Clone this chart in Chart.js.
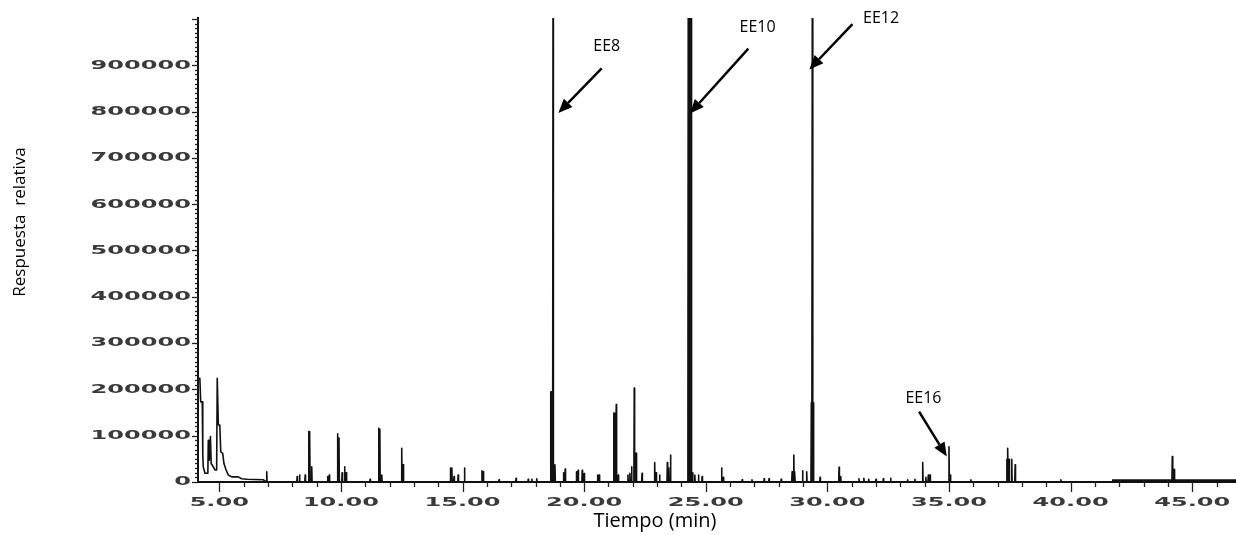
<!DOCTYPE html>
<html>
<head>
<meta charset="utf-8">
<script src="https://cdn.jsdelivr.net/npm/chart.js@4.4.1/dist/chart.umd.min.js"></script>
<style>
  html, body { margin: 0; padding: 0; background: #fff; }
  #wrap { width: 1236px; height: 535px; }
</style>
</head>
<body>
<div id="wrap"><canvas id="chart" width="1236" height="535"></canvas></div>
<script>
// solvent front
const frontTimes = [4.124, 4.13, 4.20, 4.235, 4.30, 4.32, 4.34, 4.41, 4.50, 4.53, 4.548, 4.565, 4.59, 4.635, 4.665, 4.75, 4.82, 4.89, 4.915, 4.935, 4.96, 5.02, 5.06, 5.14, 5.19, 5.28, 5.37, 5.51, 5.78, 5.92, 6.13, 6.80]
const frontValues = [0, 224000, 224000, 173000, 173000, 60000, 33000, 19000, 19000, 25000, 90000, 47000, 47000, 98000, 40000, 33000, 26000, 26000, 224000, 224000, 123000, 123000, 65000, 62000, 40000, 26000, 15000, 11000, 11000, 7000, 6000, 5000]

// narrow peaks (retention time in min, abundance)
const peakTimes = [6.95, 8.20, 8.30, 8.53, 8.68, 8.72, 8.80, 9.45, 9.52, 9.86, 9.92, 10.05, 10.15, 10.22,
  11.20, 11.55, 11.60, 11.68, 12.50, 12.56, 14.50, 14.56, 14.65, 14.82, 15.08, 15.80, 15.85, 16.50,
  17.20, 17.70, 17.85, 18.05, 18.62, 18.66, 18.72, 18.80, 19.15, 19.22, 19.68, 19.75, 19.92, 20.00,
  20.55, 20.62, 21.22, 21.26, 21.32, 21.40, 21.80, 21.88, 21.95, 22.06, 22.11, 22.14, 22.38, 22.90,
  22.96, 23.10, 23.42, 23.48, 23.55, 24.28, 24.32, 24.36, 24.40, 24.46, 24.55, 24.70, 24.85, 25.65,
  25.72, 26.50, 26.90, 27.40, 27.60, 28.10, 28.55, 28.62, 28.66, 28.98, 29.15, 29.34, 29.38, 29.42,
  29.70, 30.48, 30.55, 31.30, 31.50, 31.70, 32.00, 32.30, 32.60, 33.30, 33.60, 33.92, 34.05, 34.15,
  34.22, 35.00, 35.06, 35.90, 37.38, 37.42, 37.47, 37.58, 37.72, 39.60, 44.18, 44.22, 44.26]
const peakHeights = [22000, 12000, 15000, 15000, 109000, 109000, 33000, 12000, 15000, 104000, 95000, 20000, 33000, 20000,
  6000, 116000, 114000, 15000, 73000, 37000, 30000, 30000, 12000, 15000, 30000, 24000, 22000, 5000,
  8000, 6000, 6000, 7000, 195000, 195000, 1050000, 37000, 20000, 28000, 22000, 25000, 25000, 18000,
  15000, 15000, 149000, 149000, 167000, 15000, 15000, 19000, 33000, 203000, 62000, 62000, 19000, 42000,
  20000, 15000, 42000, 30000, 58000, 1050000, 1050000, 1050000, 1050000, 20000, 15000, 15000, 12000, 30000,
  10000, 5000, 5000, 7000, 7000, 6000, 22000, 58000, 22000, 24000, 22000, 171000, 1050000, 171000,
  10000, 32000, 12000, 7000, 8000, 6000, 6000, 7000, 8000, 5000, 6000, 42000, 10000, 15000,
  15000, 76000, 15000, 5000, 49000, 73000, 49000, 49000, 37000, 5000, 55000, 27000, 27000]

// raised baseline at the end of the run
const tailTimes = [41.7, 46.8]
const tailValues = [4000, 4000]

const xTickValues = [5, 10, 15, 20, 25, 30, 35, 40, 45]
const xTickLabels = ['5.00', '10.00', '15.00', '20.00', '25.00', '30.00', '35.00', '40.00', '45.00']
const yTickValues = [0, 100000, 200000, 300000, 400000, 500000, 600000, 700000, 800000, 900000]
const yTickLabels = ['0', '100000', '200000', '300000', '400000', '500000', '600000', '700000', '800000', '900000']

// peak labels and arrows, in data units
const peakNames = ['EE8', 'EE10', 'EE12', 'EE16']
const labelTimes = [20.93, 27.13, 32.21, 33.95]
const labelValues = [940000, 981000, 1001000, 180000]
const arrowFromTimes = [20.72, 26.75, 31.03, 33.77]
const arrowFromValues = [893000, 936000, 989000, 152000]
const arrowToTimes = [18.94, 24.35, 29.26, 34.91]
const arrowToValues = [797000, 796000, 891000, 55000]

const trace = []
frontTimes.forEach((t, i) => trace.push({ x: t, y: frontValues[i] }))
peakTimes.forEach((t, i) => {
  trace.push({ x: t - 0.015, y: 0 }, { x: t, y: peakHeights[i] }, { x: t + 0.015, y: 0 })
})
trace.push({ x: 46.8, y: 0 })
const tail = tailTimes.map((t, i) => ({ x: t, y: tailValues[i] }))

function arrow (ctx, x1, y1, x2, y2) {
  const a = Math.atan2(y2 - y1, x2 - x1)
  const head = 14
  const bx = x2 - Math.cos(a) * head
  const by = y2 - Math.sin(a) * head
  ctx.beginPath()
  ctx.moveTo(x1, y1)
  ctx.lineTo(bx, by)
  ctx.stroke()
  ctx.beginPath()
  ctx.moveTo(x2, y2)
  ctx.lineTo(bx + Math.sin(a) * 6, by - Math.cos(a) * 6)
  ctx.lineTo(bx - Math.sin(a) * 6, by + Math.cos(a) * 6)
  ctx.closePath()
  ctx.fill()
}

const decor = {
  id: 'decor',
  afterDraw (chart) {
    const ctx = chart.ctx
    const xs = chart.scales.x
    const ys = chart.scales.y
    const area = chart.chartArea
    ctx.save()
    ctx.strokeStyle = '#222'
    ctx.lineWidth = 1.3
    for (let v = 0; v <= 1000000; v += 10000) {
      const py = Math.round(ys.getPixelForValue(v)) + 0.5
      const len = v % 100000 === 0 ? 6 : 3
      ctx.beginPath()
      ctx.moveTo(area.left, py)
      ctx.lineTo(area.left - len, py)
      ctx.stroke()
    }
    for (let t = 5; t <= 46; t++) {
      const px = Math.round(xs.getPixelForValue(t)) + 0.5
      const len = t % 5 === 0 ? 10 : 5
      ctx.beginPath()
      ctx.moveTo(px, area.bottom)
      ctx.lineTo(px, area.bottom + len)
      ctx.stroke()
    }

    // stretched tick labels
    ctx.fillStyle = '#3a3a3a'
    ctx.font = 'bold 13px "DejaVu Sans"'
    ctx.textBaseline = 'middle'
    const stretch = 1.85
    yTickValues.forEach((v, i) => {
      ctx.save()
      ctx.translate(area.left - 7, ys.getPixelForValue(v))
      ctx.scale(stretch, 1)
      ctx.textAlign = 'right'
      ctx.fillText(yTickLabels[i], 0, 0)
      ctx.restore()
    })
    xTickValues.forEach((t, i) => {
      ctx.save()
      ctx.translate(xs.getPixelForValue(t), area.bottom + 21)
      ctx.scale(stretch, 1)
      ctx.textAlign = 'center'
      ctx.fillText(xTickLabels[i], 0, 0)
      ctx.restore()
    })

    // axis titles
    ctx.fillStyle = '#000'
    ctx.font = '20px "Open Sans"'
    ctx.textAlign = 'center'
    ctx.fillText('Tiempo (min)', 655, 521)
    ctx.save()
    ctx.translate(20, 222)
    ctx.rotate(-Math.PI / 2)
    ctx.font = '17px "Open Sans"'
    ctx.fillText('Respuesta  relativa', 0, 0)
    ctx.restore()

    // peak annotations
    ctx.font = '16px "Open Sans"'
    ctx.strokeStyle = '#000'
    ctx.lineWidth = 2.5
    peakNames.forEach((name, i) => {
      ctx.fillText(name, xs.getPixelForValue(labelTimes[i]), ys.getPixelForValue(labelValues[i]))
      arrow(ctx,
        xs.getPixelForValue(arrowFromTimes[i]), ys.getPixelForValue(arrowFromValues[i]),
        xs.getPixelForValue(arrowToTimes[i]), ys.getPixelForValue(arrowToValues[i]))
    })
    ctx.restore()
  }
}

new Chart(document.getElementById('chart'), {
  type: 'line',
  data: {
    datasets: [
      { data: trace, borderColor: '#111', borderWidth: 1.6, pointRadius: 0, tension: 0, borderJoinStyle: 'round' },
      { data: tail, borderColor: '#111', borderWidth: 2, pointRadius: 0 }
    ]
  },
  options: {
    responsive: false,
    animation: false,
    devicePixelRatio: 1,
    layout: { padding: { top: 18, right: 0, left: 0, bottom: 0 } },
    plugins: { legend: { display: false }, tooltip: { enabled: false } },
    scales: {
      x: {
        type: 'linear', min: 4.124, max: 46.8,
        ticks: { display: false },
        grid: { display: false, drawTicks: false },
        border: { display: true, color: '#111', width: 2 },
        afterFit: s => { s.height = 53 }
      },
      y: {
        type: 'linear', min: 0, max: 1002000,
        ticks: { display: false },
        grid: { display: false, drawTicks: false },
        border: { display: true, color: '#111', width: 2 },
        afterFit: s => { s.width = 198 }
      }
    }
  },
  plugins: [decor]
})
</script>
</body>
</html>
